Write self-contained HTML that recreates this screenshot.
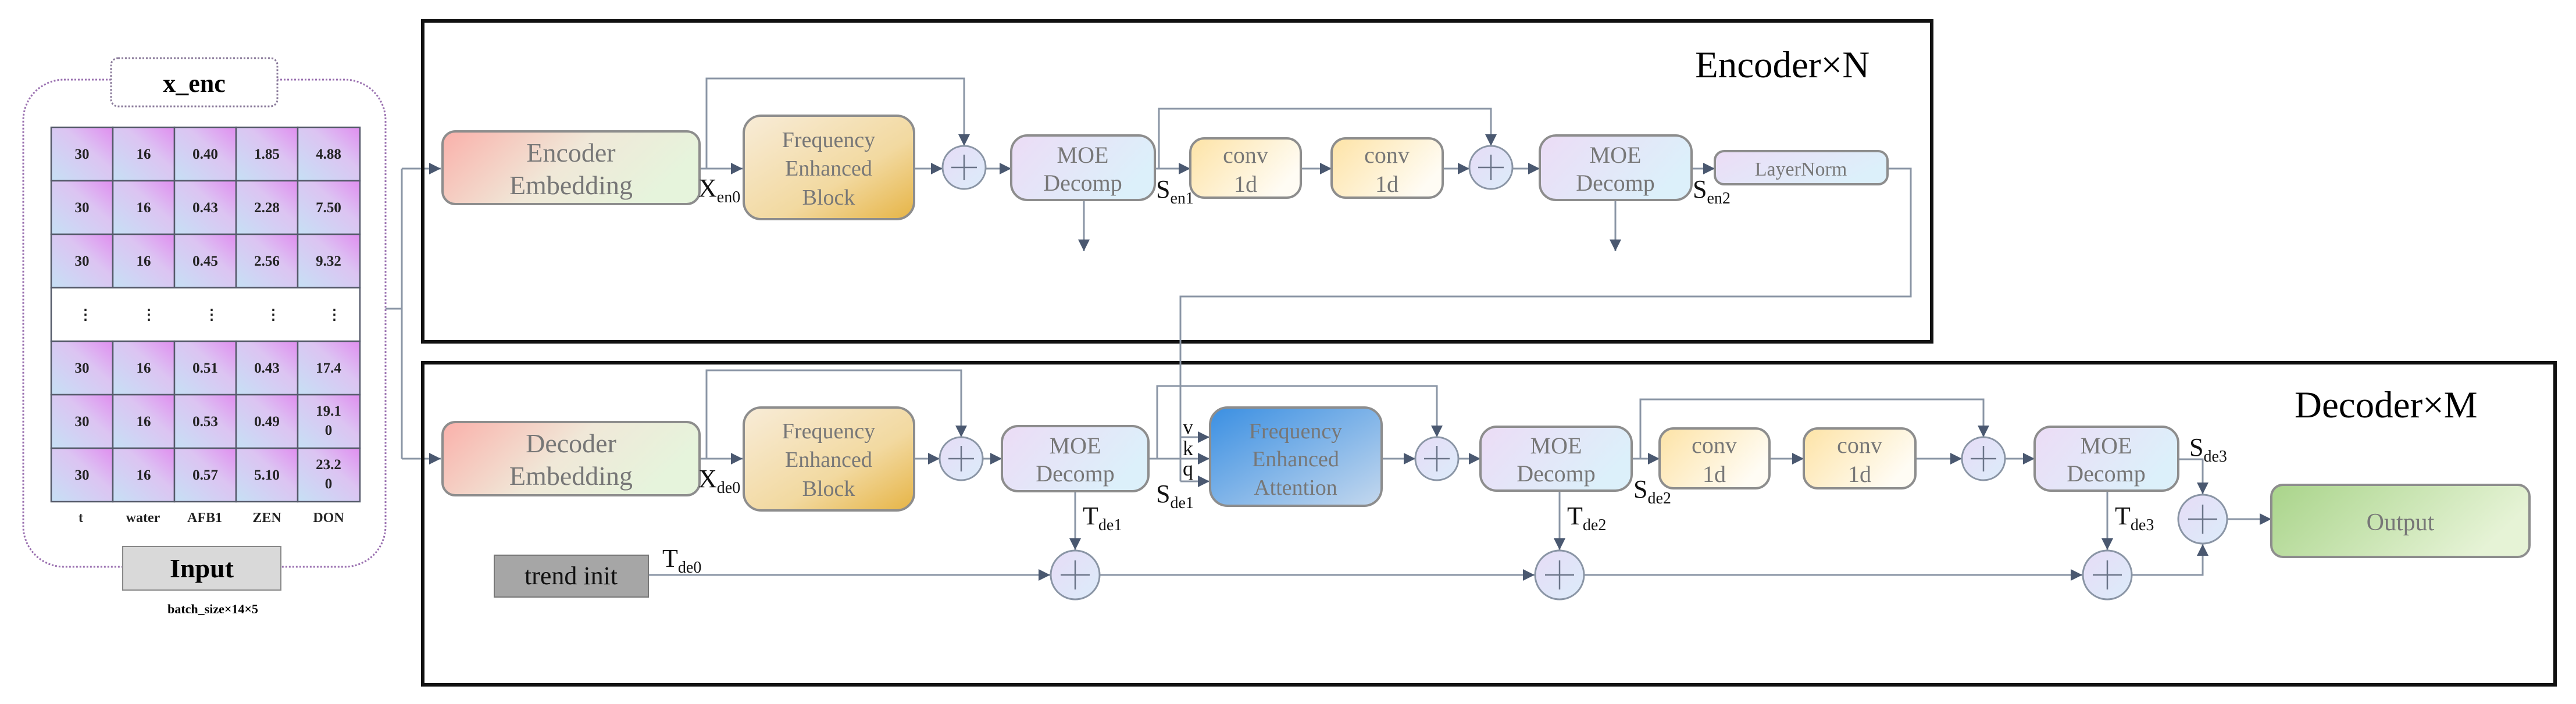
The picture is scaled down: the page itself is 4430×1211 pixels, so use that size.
<!DOCTYPE html>
<html><head><meta charset="utf-8"><style>
html,body{margin:0;padding:0;background:#fff;}
svg{display:block;}
text{font-family:"Liberation Serif",serif;}
</style></head><body>
<svg width="4430" height="1211" viewBox="0 0 4430 1211" xmlns="http://www.w3.org/2000/svg">
<defs>
<marker id="ar" markerWidth="10" markerHeight="10" refX="9" refY="5" orient="auto" markerUnits="userSpaceOnUse" viewBox="0 0 10 10">
</marker>
<marker id="a" viewBox="0 0 10 10" refX="10" refY="5" markerWidth="20" markerHeight="20" markerUnits="userSpaceOnUse" orient="auto"><path d="M0,0 L10,5 L0,10 z" fill="#4a5870"/></marker>
<linearGradient id="cell" x1="0" y1="1" x2="1" y2="0"><stop offset="0" stop-color="#c6e0f5"/><stop offset="0.6" stop-color="#dcc4f2"/><stop offset="1" stop-color="#e08ef0"/></linearGradient>
<linearGradient id="emb" x1="0" y1="0" x2="1" y2="0.3"><stop offset="0" stop-color="#fab0aa"/><stop offset="0.55" stop-color="#f0e8d8"/><stop offset="1" stop-color="#e6f4dc"/></linearGradient>
<linearGradient id="feb" x1="0" y1="0" x2="1" y2="1"><stop offset="0" stop-color="#f8ecd8"/><stop offset="0.6" stop-color="#f2d9a0"/><stop offset="1" stop-color="#e6b445"/></linearGradient>
<linearGradient id="moe" x1="0" y1="0" x2="1" y2="0.4"><stop offset="0" stop-color="#ecdcf6"/><stop offset="1" stop-color="#dcf0fa"/></linearGradient>
<linearGradient id="conv" x1="0" y1="0" x2="1" y2="0.5"><stop offset="0" stop-color="#fde3a6"/><stop offset="1" stop-color="#fffcf4"/></linearGradient>
<linearGradient id="fea" x1="0" y1="0" x2="1" y2="1"><stop offset="0" stop-color="#3a8fe2"/><stop offset="1" stop-color="#c4d8ee"/></linearGradient>
<linearGradient id="out" x1="0" y1="0" x2="1" y2="0.3"><stop offset="0" stop-color="#a9d48a"/><stop offset="1" stop-color="#e6f3d6"/></linearGradient>
<linearGradient id="circ" x1="0" y1="0" x2="1" y2="1"><stop offset="0" stop-color="#e6dcf6"/><stop offset="1" stop-color="#dcecfa"/></linearGradient>
</defs>

<!-- Input container -->
<rect x="40" y="137" width="623" height="838" rx="70" fill="none" stroke="#9a70b0" stroke-width="3" stroke-dasharray="3,3"/>
<rect x="191" y="100" width="286" height="83" rx="12" fill="#fff" stroke="#8a7a9a" stroke-width="3" stroke-dasharray="3,3"/>
<text x="334" y="158" font-size="44" font-weight="bold" text-anchor="middle">x_enc</text>

<!-- Table -->
<g font-size="25" font-weight="bold" text-anchor="middle" fill="#222">
<g id="cells">
</g>
</g>
<g stroke="#555a6a" stroke-width="2.5">
<rect x="88" y="219" width="106" height="92" fill="url(#cell)"/><rect x="194" y="219" width="106" height="92" fill="url(#cell)"/><rect x="300" y="219" width="106" height="92" fill="url(#cell)"/><rect x="406" y="219" width="106" height="92" fill="url(#cell)"/><rect x="512" y="219" width="107" height="92" fill="url(#cell)"/>
<rect x="88" y="311" width="106" height="92" fill="url(#cell)"/><rect x="194" y="311" width="106" height="92" fill="url(#cell)"/><rect x="300" y="311" width="106" height="92" fill="url(#cell)"/><rect x="406" y="311" width="106" height="92" fill="url(#cell)"/><rect x="512" y="311" width="107" height="92" fill="url(#cell)"/>
<rect x="88" y="403" width="106" height="92" fill="url(#cell)"/><rect x="194" y="403" width="106" height="92" fill="url(#cell)"/><rect x="300" y="403" width="106" height="92" fill="url(#cell)"/><rect x="406" y="403" width="106" height="92" fill="url(#cell)"/><rect x="512" y="403" width="107" height="92" fill="url(#cell)"/>
<rect x="88" y="495" width="531" height="92" fill="#fff"/>
<rect x="88" y="587" width="106" height="92" fill="url(#cell)"/><rect x="194" y="587" width="106" height="92" fill="url(#cell)"/><rect x="300" y="587" width="106" height="92" fill="url(#cell)"/><rect x="406" y="587" width="106" height="92" fill="url(#cell)"/><rect x="512" y="587" width="107" height="92" fill="url(#cell)"/>
<rect x="88" y="679" width="106" height="92" fill="url(#cell)"/><rect x="194" y="679" width="106" height="92" fill="url(#cell)"/><rect x="300" y="679" width="106" height="92" fill="url(#cell)"/><rect x="406" y="679" width="106" height="92" fill="url(#cell)"/><rect x="512" y="679" width="107" height="92" fill="url(#cell)"/>
<rect x="88" y="771" width="106" height="92" fill="url(#cell)"/><rect x="194" y="771" width="106" height="92" fill="url(#cell)"/><rect x="300" y="771" width="106" height="92" fill="url(#cell)"/><rect x="406" y="771" width="106" height="92" fill="url(#cell)"/><rect x="512" y="771" width="107" height="92" fill="url(#cell)"/>
</g>
<g font-size="25" font-weight="bold" text-anchor="middle" fill="#222">
<text x="141" y="273">30</text><text x="247" y="273">16</text><text x="353" y="273">0.40</text><text x="459" y="273">1.85</text><text x="565" y="273">4.88</text>
<text x="141" y="365">30</text><text x="247" y="365">16</text><text x="353" y="365">0.43</text><text x="459" y="365">2.28</text><text x="565" y="365">7.50</text>
<text x="141" y="457">30</text><text x="247" y="457">16</text><text x="353" y="457">0.45</text><text x="459" y="457">2.56</text><text x="565" y="457">9.32</text>
<text x="147" y="549">⋮</text><text x="256" y="549">⋮</text><text x="364" y="549">⋮</text><text x="470" y="549">⋮</text><text x="575" y="549">⋮</text>
<text x="141" y="641">30</text><text x="247" y="641">16</text><text x="353" y="641">0.51</text><text x="459" y="641">0.43</text><text x="565" y="641">17.4</text>
<text x="141" y="733">30</text><text x="247" y="733">16</text><text x="353" y="733">0.53</text><text x="459" y="733">0.49</text><text x="565" y="715">19.1</text><text x="565" y="748">0</text>
<text x="141" y="825">30</text><text x="247" y="825">16</text><text x="353" y="825">0.57</text><text x="459" y="825">5.10</text><text x="565" y="807">23.2</text><text x="565" y="840">0</text>
<text x="139" y="898" font-size="24">t</text><text x="246" y="898" font-size="24">water</text><text x="352" y="898" font-size="24">AFB1</text><text x="459" y="898" font-size="24">ZEN</text><text x="565" y="898" font-size="24">DON</text>
</g>
<rect x="211" y="940" width="272" height="75" fill="#d9d9d9" stroke="#888" stroke-width="2"/>
<text x="347" y="993" font-size="46" font-weight="bold" text-anchor="middle">Input</text>
<text x="366" y="1055" font-size="22" font-weight="bold" text-anchor="middle">batch_size×14×5</text>

<!-- input connectors -->
<g stroke="#8a95a5" stroke-width="3" fill="none">
<path d="M663 531 H691 M691 290 V789"/>
<path d="M691 290 H758" marker-end="url(#a)"/>
<path d="M691 789 H758" marker-end="url(#a)"/>
</g>

<!-- Encoder / decoder frames -->
<rect x="727" y="36" width="2595" height="552" fill="none" stroke="#111" stroke-width="6"/>
<rect x="727" y="624" width="3667" height="554" fill="none" stroke="#111" stroke-width="6"/>
<text x="2915" y="133" font-size="65">Encoder×N</text>
<text x="3946" y="718" font-size="65">Decoder×M</text>

<!-- Connectors -->
<g stroke="#8a95a5" stroke-width="3" fill="none">
<!-- encoder -->
<path d="M1203 290 H1277" marker-end="url(#a)"/>
<path d="M1215 290 V135 H1658 V251" marker-end="url(#a)"/>
<path d="M1572 290 H1621" marker-end="url(#a)"/>
<path d="M1695 290 H1739" marker-end="url(#a)"/>
<path d="M1864 344 V432" marker-end="url(#a)"/>
<path d="M1986 290 H2047" marker-end="url(#a)"/>
<path d="M1993 290 V187 H2564 V251" marker-end="url(#a)"/>
<path d="M2237 290 H2290" marker-end="url(#a)"/>
<path d="M2481 290 H2527" marker-end="url(#a)"/>
<path d="M2601 290 H2648" marker-end="url(#a)"/>
<path d="M2778 344 V432" marker-end="url(#a)"/>
<path d="M2909 290 H2949" marker-end="url(#a)"/>
<path d="M3246 290 H3286 V510 H2030 V828"/>
<path d="M2030 752 H2080" marker-end="url(#a)"/>
<path d="M2030 828 H2080" marker-end="url(#a)"/>
<!-- decoder -->
<path d="M1203 789 H1277" marker-end="url(#a)"/>
<path d="M1215 789 V637 H1653 V752" marker-end="url(#a)"/>
<path d="M1572 789 H1616" marker-end="url(#a)"/>
<path d="M1690 789 H1723" marker-end="url(#a)"/>
<path d="M1975 789 H2080" marker-end="url(#a)"/>
<path d="M1990 789 V664 H2471 V752" marker-end="url(#a)"/>
<path d="M2376 789 H2434" marker-end="url(#a)"/>
<path d="M2508 789 H2546" marker-end="url(#a)"/>
<path d="M2806 789 H2854" marker-end="url(#a)"/>
<path d="M2821 789 V687 H3411 V752" marker-end="url(#a)"/>
<path d="M3043 789 H3102" marker-end="url(#a)"/>
<path d="M3294 789 H3374" marker-end="url(#a)"/>
<path d="M3448 789 H3499" marker-end="url(#a)"/>
<path d="M1849 845 V946" marker-end="url(#a)"/>
<path d="M2682 845 V946" marker-end="url(#a)"/>
<path d="M3624 845 V946" marker-end="url(#a)"/>
<path d="M3746 790 H3788 V850" marker-end="url(#a)"/>
<path d="M1115 989 H1806" marker-end="url(#a)"/>
<path d="M1891 989 H2639" marker-end="url(#a)"/>
<path d="M2724 989 H3581" marker-end="url(#a)"/>
<path d="M3666 989 H3788 V936" marker-end="url(#a)"/>
<path d="M3830 893 H3906" marker-end="url(#a)"/>
</g>

<!-- Boxes -->
<g stroke="#8d8d8d" stroke-width="4">
<rect x="761" y="226" width="442" height="125" rx="22" fill="url(#emb)"/>
<rect x="761" y="726" width="442" height="126" rx="22" fill="url(#emb)"/>
<rect x="1279" y="199" width="293" height="178" rx="30" fill="url(#feb)"/>
<rect x="1279" y="701" width="293" height="177" rx="30" fill="url(#feb)"/>
<rect x="1739" y="233" width="247" height="111" rx="28" fill="url(#moe)"/>
<rect x="2047" y="238" width="190" height="102" rx="24" fill="url(#conv)"/>
<rect x="2290" y="238" width="191" height="102" rx="24" fill="url(#conv)"/>
<rect x="2648" y="233" width="261" height="111" rx="28" fill="url(#moe)"/>
<rect x="2949" y="260" width="297" height="57" rx="16" fill="url(#moe)"/>
<rect x="1723" y="733" width="252" height="112" rx="28" fill="url(#moe)"/>
<rect x="2081" y="701" width="295" height="169" rx="30" fill="url(#fea)"/>
<rect x="2546" y="734" width="260" height="110" rx="28" fill="url(#moe)"/>
<rect x="2854" y="737" width="189" height="103" rx="24" fill="url(#conv)"/>
<rect x="3102" y="737" width="192" height="103" rx="24" fill="url(#conv)"/>
<rect x="3499" y="734" width="247" height="110" rx="28" fill="url(#moe)"/>
<rect x="3906" y="834" width="444" height="124" rx="20" fill="url(#out)"/>
<rect x="850" y="955" width="265" height="72" fill="#a6a6a6" stroke="#777" stroke-width="2"/>
</g>

<!-- Circles -->
<g stroke="#8a95a5" stroke-width="3" fill="url(#circ)">
<circle cx="1658" cy="288" r="37"/><circle cx="2564" cy="288" r="37"/>
<circle cx="1653" cy="789" r="37"/><circle cx="2471" cy="789" r="37"/><circle cx="3411" cy="789" r="37"/>
<circle cx="1849" cy="989" r="42"/><circle cx="2682" cy="989" r="42"/><circle cx="3624" cy="989" r="42"/><circle cx="3788" cy="893" r="42"/>
</g>
<g stroke="#6a7488" stroke-width="2.5">
<path d="M1636 288 H1680 M1658 266 V310"/><path d="M2542 288 H2586 M2564 266 V310"/>
<path d="M1631 789 H1675 M1653 767 V811"/><path d="M2449 789 H2493 M2471 767 V811"/><path d="M3389 789 H3433 M3411 767 V811"/>
<path d="M1824 989 H1874 M1849 964 V1014"/><path d="M2657 989 H2707 M2682 964 V1014"/><path d="M3599 989 H3649 M3624 964 V1014"/><path d="M3763 893 H3813 M3788 868 V918"/>
</g>

<!-- Box labels -->
<g fill="#777" text-anchor="middle">
<text x="982" y="278" font-size="46">Encoder</text><text x="982" y="334" font-size="46">Embedding</text>
<text x="982" y="778" font-size="46">Decoder</text><text x="982" y="834" font-size="46">Embedding</text>
<g font-size="38"><text x="1425" y="253">Frequency</text><text x="1425" y="302">Enhanced</text><text x="1425" y="352">Block</text>
<text x="1425" y="754">Frequency</text><text x="1425" y="803">Enhanced</text><text x="1425" y="853">Block</text>
<text x="2228" y="754">Frequency</text><text x="2228" y="802">Enhanced</text><text x="2228" y="851">Attention</text></g>
<g font-size="40">
<text x="1862" y="280">MOE</text><text x="1862" y="328">Decomp</text>
<text x="2778" y="280">MOE</text><text x="2778" y="328">Decomp</text>
<text x="1849" y="780">MOE</text><text x="1849" y="828">Decomp</text>
<text x="2676" y="780">MOE</text><text x="2676" y="828">Decomp</text>
<text x="3622" y="780">MOE</text><text x="3622" y="828">Decomp</text>
<text x="2142" y="280">conv</text><text x="2142" y="330">1d</text>
<text x="2385" y="280">conv</text><text x="2385" y="330">1d</text>
<text x="2948" y="779">conv</text><text x="2948" y="829">1d</text>
<text x="3198" y="779">conv</text><text x="3198" y="829">1d</text>
</g>
<text x="3097" y="302" font-size="34">LayerNorm</text>
<text x="4128" y="912" font-size="42">Output</text>
</g>
<text x="982" y="1005" font-size="44" text-anchor="middle" fill="#111">trend init</text>

<!-- Subscript labels -->
<g fill="#111" font-size="44">
<text x="1201" y="338">X<tspan font-size="28" dy="10">en0</tspan></text>
<text x="1201" y="838">X<tspan font-size="28" dy="10">de0</tspan></text>
<text x="1988" y="340">S<tspan font-size="28" dy="10">en1</tspan></text>
<text x="2911" y="340">S<tspan font-size="28" dy="10">en2</tspan></text>
<text x="1988" y="864">S<tspan font-size="28" dy="10">de1</tspan></text>
<text x="2809" y="856">S<tspan font-size="28" dy="10">de2</tspan></text>
<text x="3765" y="784">S<tspan font-size="28" dy="10">de3</tspan></text>
<text x="1862" y="902">T<tspan font-size="28" dy="10">de1</tspan></text>
<text x="2695" y="902">T<tspan font-size="28" dy="10">de2</tspan></text>
<text x="3637" y="902">T<tspan font-size="28" dy="10">de3</tspan></text>
<text x="1139" y="975">T<tspan font-size="28" dy="10">de0</tspan></text>
<text x="2034" y="746" font-size="36">v</text>
<text x="2034" y="783" font-size="36">k</text>
<text x="2034" y="818" font-size="36">q</text>
</g>
</svg>
</body></html>
